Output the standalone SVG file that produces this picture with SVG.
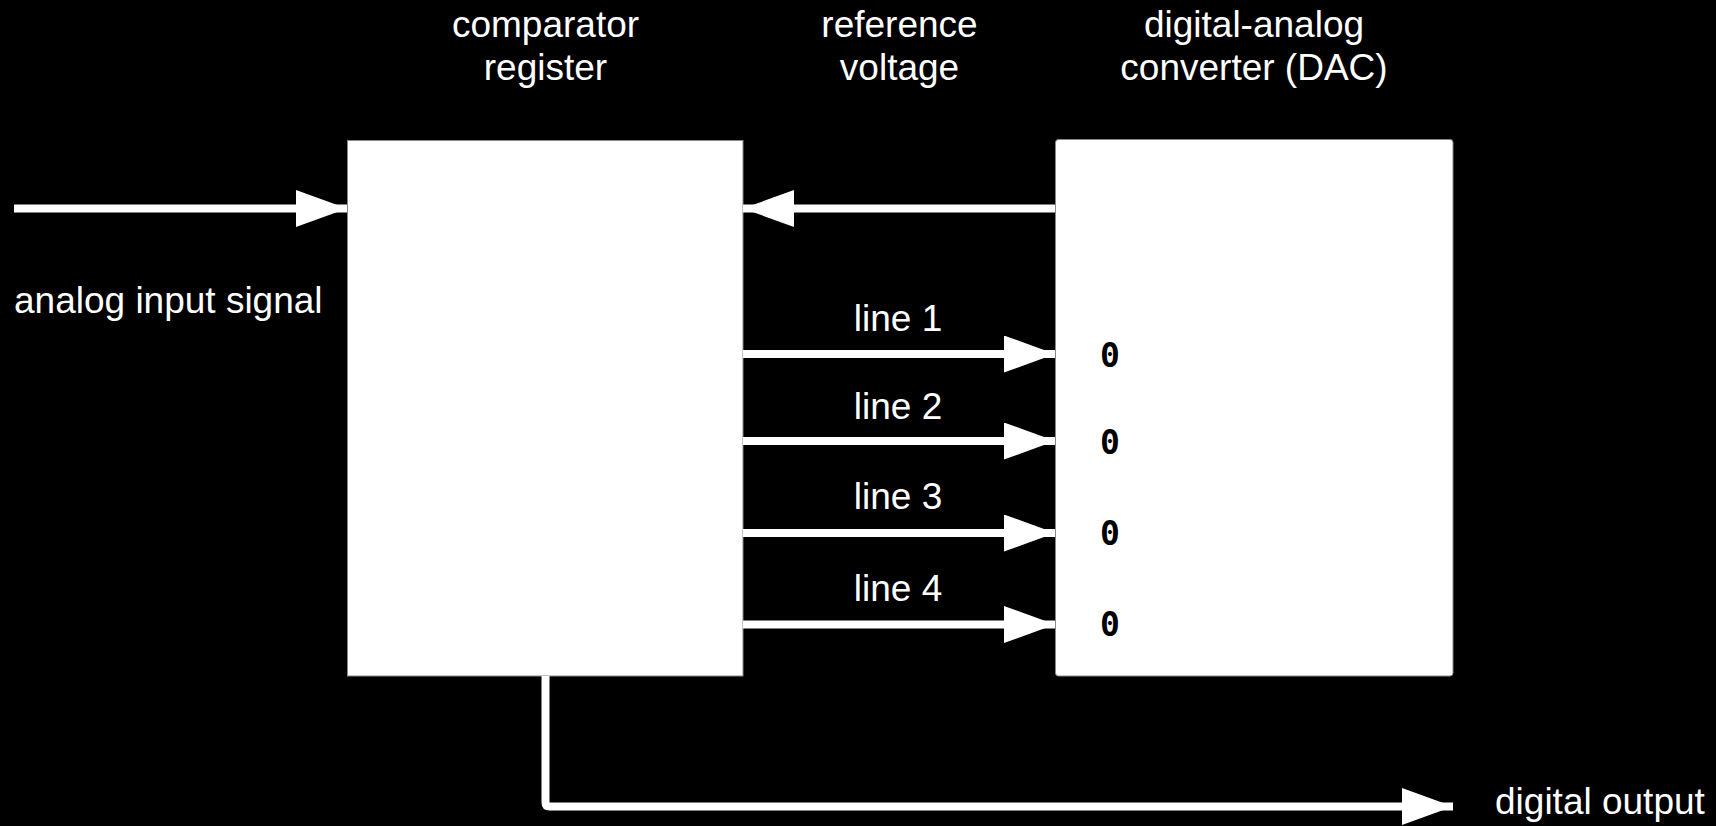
<svg xmlns="http://www.w3.org/2000/svg" width="1716" height="826" viewBox="0 0 1716 826">
  <style>
    .lbl { font-family: "Liberation Sans", Arial, sans-serif; font-size: 37px; fill: #ffffff; }
    .mid { text-anchor: middle; }
    .bit { font-family: "DejaVu Sans Mono", "Liberation Mono", monospace; font-weight: bold; font-size: 33px; fill: #000000; }
    .box { fill: #ffffff; stroke: #888888; stroke-width: 1; }
    .wire { stroke: #ffffff; stroke-width: 8; fill: none; }
  </style>
  <defs>
    <marker id="arrow" markerUnits="userSpaceOnUse" markerWidth="52" markerHeight="38" refX="51" refY="18.5" orient="auto" viewBox="0 0 52 38">
      <path d="M0,0 L51,18.5 L0,37 Z" fill="#ffffff"/>
    </marker>
  </defs>
  <rect x="0" y="0" width="1716" height="826" fill="#000000"/>

  <g id="comparator-register">
    <rect class="box" x="347.5" y="140.5" width="395.5" height="535.5"/>
    <text class="lbl mid" x="545.5" y="37">comparator</text>
    <text class="lbl mid" x="545.5" y="80">register</text>
  </g>

  <g id="dac">
    <rect class="box" x="1055.5" y="139.5" width="397.5" height="536.5" rx="3"/>
    <text class="lbl mid" x="1254" y="37">digital-analog</text>
    <text class="lbl mid" x="1254" y="80">converter (DAC)</text>
    <text class="bit" x="1100" y="367">0</text>
    <text class="bit" x="1100" y="454">0</text>
    <text class="bit" x="1100" y="545">0</text>
    <text class="bit" x="1100" y="636">0</text>
  </g>

  <g id="labels">
    <text class="lbl" x="14" y="313">analog input signal</text>
    <text class="lbl mid" x="899.5" y="37">reference</text>
    <text class="lbl mid" x="899.5" y="80">voltage</text>
    <text class="lbl mid" x="898" y="331">line 1</text>
    <text class="lbl mid" x="898" y="419">line 2</text>
    <text class="lbl mid" x="898" y="509">line 3</text>
    <text class="lbl mid" x="898" y="601">line 4</text>
    <text class="lbl" x="1495" y="814">digital output</text>
  </g>

  <g id="connectors">
    <line class="wire" x1="14" y1="208.5" x2="347" y2="208.5" marker-end="url(#arrow)"/>
    <line class="wire" x1="1055" y1="208.5" x2="743" y2="208.5" marker-end="url(#arrow)"/>
    <line class="wire" x1="743" y1="354" x2="1055" y2="354" marker-end="url(#arrow)"/>
    <line class="wire" x1="743" y1="441" x2="1055" y2="441" marker-end="url(#arrow)"/>
    <line class="wire" x1="743" y1="533" x2="1055" y2="533" marker-end="url(#arrow)"/>
    <line class="wire" x1="743" y1="624.5" x2="1055" y2="624.5" marker-end="url(#arrow)"/>
    <path class="wire" d="M545.5,676 V802.5 Q545.5,806.5 549.5,806.5 H1453" marker-end="url(#arrow)"/>
  </g>
</svg>
